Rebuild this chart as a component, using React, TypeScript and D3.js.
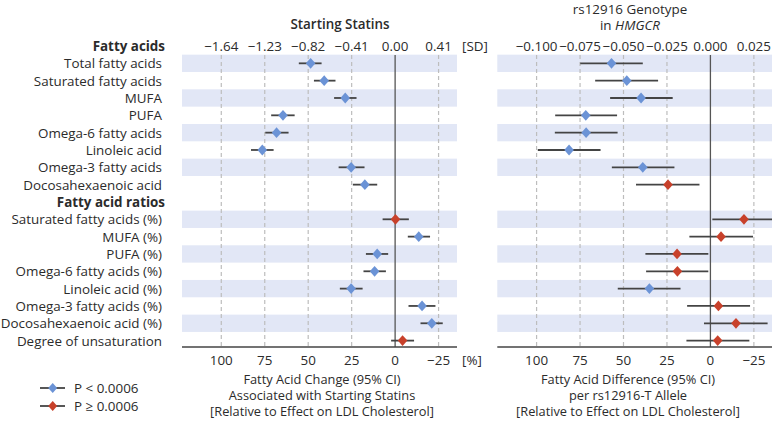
import React from "react";
import * as d3 from "d3";

const rowLabels = [
  "Total fatty acids", "Saturated fatty acids", "MUFA", "PUFA", "Omega-6 fatty acids",
  "Linoleic acid", "Omega-3 fatty acids", "Docosahexaenoic acid",
  "Saturated fatty acids (%)", "MUFA (%)", "PUFA (%)", "Omega-6 fatty acids (%)",
  "Linoleic acid (%)", "Omega-3 fatty acids (%)", "Docosahexaenoic acid (%)", "Degree of unsaturation",
];
const groupHeaders = ["Fatty acids", "Fatty acid ratios"];

// Starting statins: % change (positive = left)
const statEst = [48.6, 40.8, 28.7, 64.5, 68.2, 76.4, 25.3, 17.4, -0.2, -13.6, 10.3, 11.8, 25.3, -15.5, -21.1, -4.3];
const statLo = [42.3, 34.3, 22.2, 57.8, 61.3, 69.9, 17.6, 10.3, -7.9, -20.1, 4.0, 5.3, 18.7, -23.2, -27.4, -10.9];
const statHi = [55.4, 46.7, 35.1, 71.3, 74.7, 82.9, 32.5, 24.3, 7.2, -7.3, 16.8, 18.2, 31.8, -7.7, -14.6, 2.3];
const statSig = [1, 1, 1, 1, 1, 1, 1, 1, 0, 1, 1, 1, 1, 1, 1, 0];

// rs12916 genotype
const genEst = [56.9, 48.1, 39.9, 71.7, 71.5, 81.3, 38.9, 24.4, -19.3, -6.1, 19.2, 19.0, 35.1, -4.6, -14.7, -4.2];
const genLo = [38.9, 30.1, 21.7, 53.7, 53.4, 63.2, 20.7, 6.3, -36.5, -24.5, 1.2, 1.2, 17.2, -22.8, -32.9, -22.4];
const genHi = [74.9, 66.3, 57.7, 89.3, 89.5, 99.3, 56.7, 42.8, -1.1, 12.1, 37.4, 37.0, 53.3, 13.4, 3.7, 13.8];
const genSig = [1, 1, 1, 1, 1, 1, 1, 0, 0, 0, 0, 0, 1, 0, 0, 0];

const pctTicks = [100, 75, 50, 25, 0, -25];
const pctTickLabels = ["100", "75", "50", "25", "0", "\u221225"];
const sdTicksLeft = ["\u22121.64", "\u22121.23", "\u22120.82", "\u22120.41", "0.00", "0.41"];
const sdTicksRight = ["\u22120.100", "\u22120.075", "\u22120.050", "\u22120.025", "0.000", "0.025"];

const leftTitleLines = ["Fatty Acid Change (95% CI)", "Associated with Starting Statins", "[Relative to Effect on LDL Cholesterol]"];
const rightTitleLines = ["Fatty Acid Difference (95% CI)", "per rs12916-T Allele", "[Relative to Effect on LDL Cholesterol]"];

const BLUE = "#6b93d6";
const RED = "#c8412b";
const BAND = "#e2e7f6";
const FONT = "'Open Sans', 'Noto Sans', sans-serif";
const TEXT = "#2b2b2b";
const FS = 13.4;

const rowY = d3.scaleLinear().domain([0, 1]).range([46, 46 + 17.33]);
// row index in layout: header 0, rows 1-8, header 9, rows 10-17
const layoutIndex = (i: number) => (i < 8 ? i + 1 : i + 2);

const plotTop = 55;
const plotBottom = 347;

function Panel({ x0, est, lo, hi, sig, sdLabels, unitTop }: any) {
  const x = d3.scaleLinear().domain([122.6, -35.6]).range([x0, x0 + 275]);
  return (
    <g>
      <defs>
        <clipPath id={`clip${Math.round(x0)}`}>
          <rect x={x0} y={0} width={275} height={421} />
        </clipPath>
      </defs>
      {rowLabels.map((_, i) => {
        const li = layoutIndex(i);
        const within = i < 8 ? i : i - 8;
        if (within % 2 !== 0) return null;
        return <rect key={i} x={x0} y={rowY(li) - 8.67} width={275} height={17.33} fill={BAND} />;
      })}
      {pctTicks.map((t, k) =>
        t === 0 ? null : (
          <line key={k} x1={x(t)} x2={x(t)} y1={plotTop} y2={plotBottom} stroke="#bdbdbd" strokeWidth={1.2} strokeDasharray="4,3" />
        )
      )}
      <line x1={x(0)} x2={x(0)} y1={plotTop} y2={plotBottom} stroke="#555" strokeWidth={1.3} />
      <line x1={x0} x2={x0 + 275} y1={plotBottom} y2={plotBottom} stroke="#444" strokeWidth={1.3} />
      {pctTicks.map((t, k) => (
        <text key={"b" + k} x={x(t)} y={360} textAnchor="middle" dominantBaseline="central" fontSize={FS} fill={TEXT}>
          {pctTickLabels[k]}
        </text>
      ))}
      {pctTicks.map((t, k) => (
        <text key={"t" + k} x={x(t)} y={46} textAnchor="middle" dominantBaseline="central" fontSize={FS} fill={TEXT}>
          {sdLabels[k]}
        </text>
      ))}
      {unitTop && (
        <>
          <text x={x0 + 280} y={46} dominantBaseline="central" fontSize={FS} fill={TEXT}>[SD]</text>
          <text x={x0 + 280} y={360} dominantBaseline="central" fontSize={FS} fill={TEXT}>[%]</text>
        </>
      )}
      <g clipPath={`url(#clip${Math.round(x0)})`}>
        {est.map((e: number, i: number) => {
          const y = rowY(layoutIndex(i));
          const cx = x(e);
          return (
            <g key={i}>
              <line x1={x(lo[i])} x2={x(hi[i])} y1={y} y2={y} stroke="#444" strokeWidth={1.8} />
              <path d={`M${cx},${y - 5.4} L${cx + 4.8},${y} L${cx},${y + 5.4} L${cx - 4.8},${y} Z`} fill={sig[i] ? BLUE : RED} />
            </g>
          );
        })}
      </g>
    </g>
  );
}

export default function App() {
  return (
    <svg width={772} height={421} style={{ position: "absolute", left: 0, top: 0, background: "#fff" }} fontFamily={FONT}>
      {groupHeaders.map((h, k) => (
        <text key={h} x={165} y={rowY(k === 0 ? 0 : 9)} textAnchor="end" dominantBaseline="central" fontSize={FS} fontWeight={700} fill={TEXT}>
          {h}
        </text>
      ))}
      {rowLabels.map((l, i) => (
        <text key={i} x={162} y={rowY(layoutIndex(i))} textAnchor="end" dominantBaseline="central" fontSize={FS} fill={TEXT}>
          {l}
        </text>
      ))}
      <Panel x0={182} est={statEst} lo={statLo} hi={statHi} sig={statSig} sdLabels={sdTicksLeft} unitTop={true} />
      <Panel x0={497.3} est={genEst} lo={genLo} hi={genHi} sig={genSig} sdLabels={sdTicksRight} unitTop={false} />

      <text x={340} y={24} textAnchor="middle" dominantBaseline="central" fontSize={FS} fontWeight={600} fill={TEXT}>Starting Statins</text>
      <text x={630} y={9} textAnchor="middle" dominantBaseline="central" fontSize={FS} fill={TEXT}>rs12916 Genotype</text>
      <text x={630} y={25} textAnchor="middle" dominantBaseline="central" fontSize={FS} fill={TEXT}>
        in <tspan fontStyle="italic">HMGCR</tspan>
      </text>

      {leftTitleLines.map((t, k) => (
        <text key={t} x={322} y={378.5 + k * 16} textAnchor="middle" dominantBaseline="central" fontSize={12.8} fill={TEXT}>{t}</text>
      ))}
      {rightTitleLines.map((t, k) => (
        <text key={t} x={628} y={378.5 + k * 16} textAnchor="middle" dominantBaseline="central" fontSize={12.8} fill={TEXT}>{t}</text>
      ))}

      {[{ c: BLUE, l: "P < 0.0006", y: 388 }, { c: RED, l: "P \u2265 0.0006", y: 406 }].map((d) => (
        <g key={d.l}>
          <line x1={40} x2={65} y1={d.y} y2={d.y} stroke="#444" strokeWidth={1.8} />
          <path d={`M52.7,${d.y - 5} L57.2,${d.y} L52.7,${d.y + 5} L48.2,${d.y} Z`} fill={d.c} />
          <text x={74} y={d.y} dominantBaseline="central" fontSize={FS} fill={TEXT}>{d.l}</text>
        </g>
      ))}
    </svg>
  );
}
